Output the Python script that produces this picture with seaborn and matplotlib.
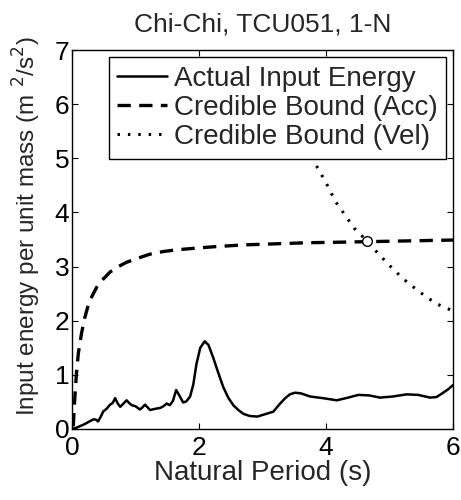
import matplotlib
matplotlib.use("Agg")
import matplotlib.pyplot as plt
import seaborn as sns

# Actual input energy (solid)
actual_T = [0.0, 0.06, 0.12, 0.18, 0.23, 0.29, 0.34, 0.38, 0.41, 0.45, 0.49, 0.55, 0.60, 0.64,
            0.68, 0.72, 0.76, 0.81, 0.86, 0.90, 0.94, 1.00, 1.07, 1.11, 1.15, 1.19, 1.23, 1.30,
            1.39, 1.44, 1.49, 1.54, 1.59, 1.64, 1.69, 1.75, 1.80, 1.86, 1.91, 1.96, 2.02, 2.09,
            2.15, 2.22, 2.30, 2.38, 2.46, 2.54, 2.62, 2.70, 2.80, 2.92, 3.06, 3.17, 3.27, 3.35,
            3.43, 3.51, 3.60, 3.75, 3.95, 4.17, 4.35, 4.51, 4.68, 4.85, 5.05, 5.27, 5.45, 5.64,
            5.74, 5.82, 5.92, 6.0]
actual_E = [0.0, 0.02, 0.05, 0.08, 0.11, 0.15, 0.18, 0.17, 0.14, 0.22, 0.32, 0.38, 0.45, 0.48,
            0.57, 0.47, 0.41, 0.47, 0.53, 0.48, 0.44, 0.42, 0.36, 0.40, 0.45, 0.40, 0.35, 0.37,
            0.39, 0.42, 0.47, 0.44, 0.52, 0.72, 0.62, 0.49, 0.51, 0.60, 0.82, 1.20, 1.50, 1.62,
            1.55, 1.33, 1.05, 0.78, 0.58, 0.44, 0.35, 0.28, 0.24, 0.23, 0.28, 0.32, 0.46, 0.56,
            0.64, 0.67, 0.66, 0.60, 0.57, 0.53, 0.58, 0.63, 0.62, 0.58, 0.60, 0.64, 0.63, 0.58,
            0.59, 0.65, 0.73, 0.81]

# Credible bound from acceleration (dashed)
acc_T = [0.02, 0.04, 0.07, 0.10, 0.15, 0.20, 0.27, 0.39, 0.50, 0.60, 0.73, 0.86, 1.05, 1.23,
         1.45, 1.65, 1.95, 2.28, 2.70, 3.20, 3.70, 4.20, 4.65, 5.10, 5.55, 6.0]
acc_E = [0.05, 0.50, 1.03, 1.40, 1.77, 2.05, 2.35, 2.62, 2.78, 2.90, 3.00, 3.08, 3.16, 3.23,
         3.28, 3.31, 3.34, 3.37, 3.40, 3.42, 3.44, 3.45, 3.46, 3.47, 3.48, 3.49]

# Credible bound from velocity (dotted)
vel_T = [3.40, 3.55, 3.70, 3.85, 4.00, 4.15, 4.30, 4.45, 4.64, 4.80, 5.00, 5.22, 5.40, 5.60,
         5.80, 6.0]
vel_E = [6.30, 5.85, 5.35, 4.86, 4.55, 4.20, 3.95, 3.70, 3.48, 3.27, 3.02, 2.77, 2.60, 2.42,
         2.28, 2.18]

cross_T = [4.64]
cross_E = [3.47]

sns.set_style("ticks")
plt.rcParams['font.family'] = ['Liberation Sans', 'DejaVu Sans']
fs = 19

fig = plt.figure(figsize=(4.61, 5.0), dpi=100)
ax = fig.add_axes([72 / 461, 71 / 500, 381 / 461, 379 / 500])

sns.lineplot(x=actual_T, y=actual_E, ax=ax, color='black', lw=1.8, label='Actual Input Energy')
sns.lineplot(x=acc_T, y=acc_E, ax=ax, color='black', lw=2.4, label='Credible Bound (Acc)')
sns.lineplot(x=vel_T, y=vel_E, ax=ax, color='black', lw=2.2, label='Credible Bound (Vel)')
lines = ax.get_lines()
lines[1].set_dashes([4, 2.5])
lines[2].set_dashes([0.8, 2.6])
ax.plot(cross_T, cross_E, 'o', ms=7, mfc='white', mec='black', mew=1.0, zorder=5)

ax.set_xlim(0, 6)
ax.set_ylim(0, 7)
ax.set_xticks([0, 2, 4, 6])
ax.set_yticks(range(0, 8))
ax.tick_params(direction='in', length=4, width=0.8, top=True, right=True,
               labelsize=fs, colors='black')
ax.tick_params(axis='x', pad=5)
ax.tick_params(axis='y', pad=2)
for sp in ax.spines.values():
    sp.set_visible(True)
    sp.set_linewidth(1.0)
    sp.set_color('black')

ax.set_xlabel('Natural Period (s)', fontsize=20, labelpad=0)
ax.set_ylabel(r'Input energy per unit mass (m $^2$/s$^2$)', fontsize=17.5)
ax.yaxis.set_label_coords(-0.075, 0.535)
ax.set_title('Chi-Chi, TCU051, 1-N', fontsize=fs, pad=13)

leg = ax.legend(loc='upper right', bbox_to_anchor=(0.982, 0.981), borderaxespad=0,
                fontsize=20, frameon=True, fancybox=False, handlelength=1.8,
                handletextpad=0.25, borderpad=0.3, labelspacing=0.12)
leg.get_frame().set_edgecolor('black')
leg.get_frame().set_linewidth(1.0)
leg.get_frame().set_alpha(1)

fig.savefig('out.png', dpi=100)
